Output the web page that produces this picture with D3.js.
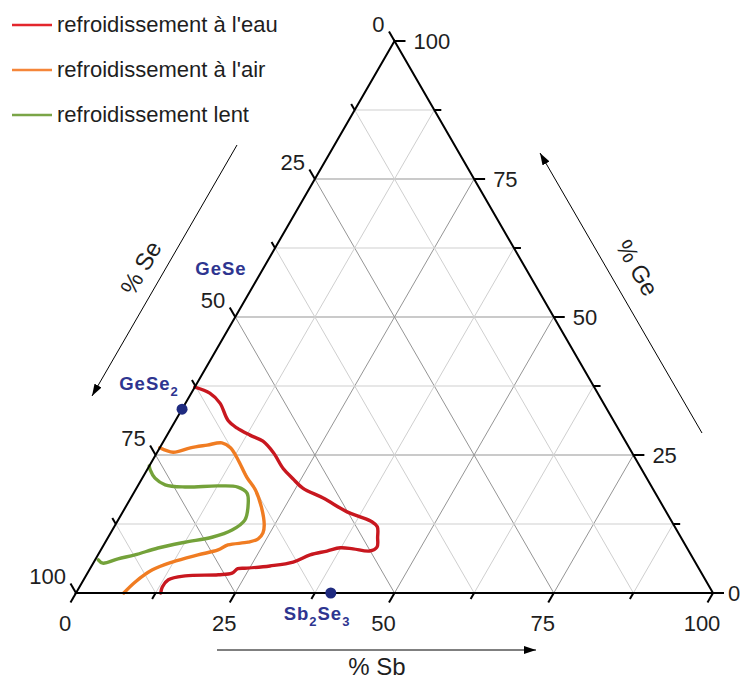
<!DOCTYPE html>
<html><head><meta charset="utf-8">
<script src="https://cdn.jsdelivr.net/npm/d3@7"></script>
<style>
body{margin:0;background:#fff}
svg{display:block}
text{font-family:"Liberation Sans",Arial,sans-serif}
</style>
</head><body>
<svg id="chart" width="741" height="680"></svg>
<script>
// ---- data ----
const legendLabels = ["refroidissement à l'eau", "refroidissement à l'air", "refroidissement lent"];
const seriesColors = ["#c8171f", "#f07c22", "#74a23a"];
const legendColors = ["#e3262c", "#f5863a", "#7aa547"];
const majorTicks = [0, 25, 50, 75, 100];
const minorTicks = [12.5, 37.5, 62.5, 87.5];
const axisTitles = ["% Sb", "% Se", "% Ge"];

// points as [Sb %, Ge %]  (Se % = 100 - Sb - Ge)
const eauCurve = [
  [0, 37.3], [2.9, 36.2], [5.4, 34.4], [8.2, 31.3], [10.3, 29.9], [13.0, 28.6], [15.6, 27.5],
  [18.3, 25.4], [21.3, 22.5], [23.7, 20.7], [26.1, 19.0], [30.2, 17.2], [35.2, 14.7],
  [37.7, 13.8], [40.0, 12.9], [41.3, 12.0], [42.3, 10.1], [43.1, 8.3], [42.3, 7.6],
  [39.5, 8.0], [37.4, 8.2], [35.6, 7.6], [33.3, 6.9], [31.3, 5.6], [28.0, 4.9],
  [24.6, 4.5], [23.2, 4.4], [22.7, 3.6], [20.7, 3.3], [15.6, 3.1], [13.3, 2.4],
  [13.0, 1.1], [13.3, 0]
];
const airCurve = [
  [0, 26.3], [2.5, 25.5], [4.8, 26.3], [7.2, 26.8], [9.3, 27.2], [11.1, 26.3], [13.4, 24.1],
  [16.3, 21.0], [18.8, 18.7], [21.3, 15.6], [23.4, 12.3], [23.9, 10.9], [23.7, 9.8],
  [22.4, 9.2], [19.5, 8.7], [18.4, 7.8], [15.7, 6.9], [12.3, 5.6], [9.9, 4.2],
  [8.3, 2.0], [7.5, 0]
];
const lentCurve = [
  [0, 23.0], [0.5, 22.3], [2.0, 20.8], [4.2, 19.6], [7.5, 19.2], [12.6, 19.4], [15.8, 19.2],
  [17.8, 18.1], [19.2, 15.6], [19.9, 13.2], [18.8, 11.4], [16.3, 10.1], [12.5, 9.2],
  [8.8, 8.15], [5.8, 6.9], [3.5, 6.2], [1.5, 5.4], [0.5, 6.0]
];
const compoundNames = [["GeSe", ""], ["GeSe", "2"], ["Sb", "2", "Se", "3"]];
const compoundSb = [0, 0, 40];
const compoundGe = [50, 33.3, 0];
const compoundDot = [false, true, true];

// ---- drawing ----
const svg = d3.select("#chart");
const xS = d3.scaleLinear().domain([0, 100]).range([76, 713]);
const yS = d3.scaleLinear().domain([0, 100]).range([593, 41]);
const P = (sb, ge) => [xS(sb + ge / 2), yS(ge)];

const defs = svg.append("defs");
defs.append("marker").attr("id", "arr").attr("viewBox", "0 0 12 8")
  .attr("refX", 12).attr("refY", 4).attr("markerWidth", 12).attr("markerHeight", 8)
  .attr("markerUnits", "userSpaceOnUse").attr("orient", "auto")
  .append("path").attr("d", "M0,0 L12,4 L0,8 Z").attr("fill", "#000");

// grid
const gridG = svg.append("g");
const gridVals = majorTicks.concat(minorTicks).filter(v => v > 0 && v < 100);
gridVals.forEach(v => {
  const major = majorTicks.includes(v);
  const col = major ? "#959595" : "#cfcfcf";
  const segs = [
    [P(0, v), P(100 - v, v)],          // Ge const
    [P(v, 0), P(v, 100 - v)],          // Sb const
    [P(100 - v, 0), P(0, 100 - v)]     // Se const
  ];
  segs.forEach(s => gridG.append("line")
    .attr("x1", s[0][0]).attr("y1", s[0][1]).attr("x2", s[1][0]).attr("y2", s[1][1])
    .attr("stroke", col).attr("stroke-width", 1));
});

// curves
const line = d3.line().x(d => P(d[0], d[1])[0]).y(d => P(d[0], d[1])[1]).curve(d3.curveCatmullRom.alpha(0.5));
[eauCurve, airCurve, lentCurve].forEach((c, i) => {
  svg.append("path").attr("d", line(c)).attr("fill", "none")
    .attr("stroke", seriesColors[i]).attr("stroke-width", 3.4)
    .attr("stroke-linejoin", "round").attr("stroke-linecap", "round");
});

// triangle
const tri = [P(0, 0), P(100, 0), P(0, 100)];
svg.append("path").attr("d", "M" + tri.map(p => p.join(",")).join("L") + "Z")
  .attr("fill", "none").attr("stroke", "#000").attr("stroke-width", 2).attr("stroke-linejoin", "miter");

// ticks
const tickG = svg.append("g").attr("stroke", "#000").attr("stroke-width", 2);
const s3 = Math.sqrt(3) / 2;
const allTicks = majorTicks.concat(minorTicks);
allTicks.forEach(v => {
  const len = majorTicks.includes(v) ? 11 : 7;
  let p = P(v, 0);
  tickG.append("line").attr("x1", p[0]).attr("y1", p[1]).attr("x2", p[0] - 0.5 * len).attr("y2", p[1] + s3 * len);
  p = P(100 - v, v);
  tickG.append("line").attr("x1", p[0]).attr("y1", p[1]).attr("x2", p[0] + len).attr("y2", p[1]);
  p = P(0, 100 - v);
  tickG.append("line").attr("x1", p[0]).attr("y1", p[1]).attr("x2", p[0] - 0.5 * len).attr("y2", p[1] - s3 * len);
});

// tick labels
const labG = svg.append("g").attr("font-size", 22).attr("fill", "#1e1e1e");
majorTicks.forEach(v => {
  let p = P(v, 0);
  labG.append("text").attr("x", p[0] - 11).attr("y", p[1] + 38).attr("text-anchor", "middle").text(v);
  p = P(100 - v, v);
  labG.append("text").attr("x", Math.min(p[0] + 19, 728)).attr("y", p[1] + 8).attr("text-anchor", "start").text(v);
  p = P(0, 100 - v);
  labG.append("text").attr("x", p[0] - 10).attr("y", p[1] - 9).attr("text-anchor", "end").text(v);
});

// axis title arrows
function arrow(x1, y1, x2, y2) {
  svg.append("line").attr("x1", x1).attr("y1", y1).attr("x2", x2).attr("y2", y2)
    .attr("stroke", "#000").attr("stroke-width", 1).attr("marker-end", "url(#arr)");
}
arrow(217, 650, 536, 650);
arrow(237, 145, 92, 396);
arrow(702, 433, 540, 153);
const tG = svg.append("g").attr("font-size", 24).attr("fill", "#1e1e1e").attr("text-anchor", "middle");
tG.append("text").attr("x", 377).attr("y", 675).text(axisTitles[0]);
tG.append("text").attr("transform", "translate(148,272) rotate(-60)").text(axisTitles[1]);
tG.append("text").attr("transform", "translate(630,272) rotate(60)").text(axisTitles[2]);

// compounds
const labelPos = [[221, 275], [149, 390], [317, 620]];
compoundNames.forEach((parts, i) => {
  const p = P(compoundSb[i], compoundGe[i]);
  if (compoundDot[i]) {
    svg.append("circle").attr("cx", p[0]).attr("cy", p[1]).attr("r", 5.5).attr("fill", "#1f2b80");
  }
  const t = svg.append("text").attr("x", labelPos[i][0]).attr("y", labelPos[i][1])
    .attr("text-anchor", "middle").attr("font-size", 18.5).attr("font-weight", "bold")
    .attr("letter-spacing", 1).attr("fill", "#2e3590");
  parts.forEach((s, j) => {
    if (!s) return;
    const sub = j % 2 === 1;
    t.append("tspan").attr("font-size", sub ? 13 : 18.5).attr("dy", sub ? 6 : (j > 0 ? -6 : 0)).text(s);
  });
});

// legend
const legG = svg.append("g");
legendLabels.forEach((l, i) => {
  const y = 25 + i * 45;
  legG.append("line").attr("x1", 12).attr("x2", 52).attr("y1", y).attr("y2", y)
    .attr("stroke", legendColors[i]).attr("stroke-width", 2.5);
  legG.append("text").attr("x", 57).attr("y", y + 7).attr("font-size", 22).attr("fill", "#1e1e1e").text(l);
});
</script>
</body></html>
